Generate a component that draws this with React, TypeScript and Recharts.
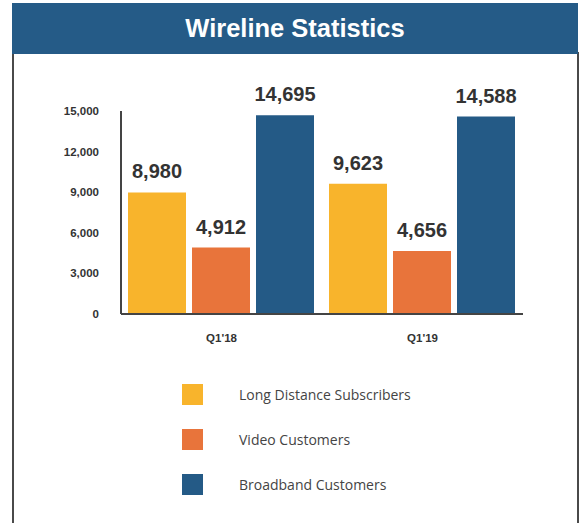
import * as React from "react";
import { BarChart, Bar, XAxis, YAxis, LabelList } from "recharts";

const quarters = ["Q1'18", "Q1'19"];
const longDistance = [8980, 9623];
const video = [4912, 4656];
const broadband = [14695, 14588];
const yTicks = [0, 3000, 6000, 9000, 12000, 15000];

const seriesNames = [
  "Long Distance Subscribers",
  "Video Customers",
  "Broadband Customers",
];
const colors = ["#F8B42C", "#E8743B", "#245A86"];

const data = quarters.map((q, i) => ({
  quarter: q,
  longDistance: longDistance[i],
  video: video[i],
  broadband: broadband[i],
}));

const keys = ["longDistance", "video", "broadband"];

const fmt = (v: number) => v.toLocaleString("en-US");

const App: React.FC = () => {
  return (
    <div
      style={{
        position: "absolute",
        left: 0,
        top: 0,
        width: 584,
        height: 523,
        background: "#fff",
        overflow: "hidden",
        fontFamily: "'Liberation Sans', Arial, sans-serif",
      }}
    >
      {/* white panel with border */}
      <div
        style={{
          position: "absolute",
          left: 12,
          top: 52,
          width: 563,
          height: 480,
          border: "2px solid #4a4a4a",
          background: "#fff",
        }}
      />
      {/* title banner */}
      <div
        style={{
          position: "absolute",
          left: 12,
          top: 3,
          width: 566,
          height: 51,
          background: "#255B87",
          color: "#fff",
          fontWeight: "bold",
          fontSize: 25.5,
          lineHeight: "51px",
          textAlign: "center",
        }}
      >
        Wireline Statistics
      </div>

      <div style={{ position: "absolute", left: 0, top: 0 }}>
        <BarChart
          width={584}
          height={523}
          data={data}
          margin={{ top: 111, right: 61, bottom: 179, left: 61 }}
          barCategoryGap={7}
          barGap={6}
        >
          <XAxis
            dataKey="quarter"
            height={30}
            axisLine={{ stroke: "#444", strokeWidth: 2 }}
            tickLine={false}
            tickSize={0}
            tickMargin={20}
            tick={{ fill: "#333", fontSize: 11.5, fontWeight: "bold" }}
          />
          <YAxis
            width={60}
            domain={[0, 15000]}
            ticks={yTicks}
            tickFormatter={fmt}
            axisLine={{ stroke: "#444", strokeWidth: 2 }}
            tickLine={false}
            tickSize={0}
            tickMargin={22}
            tick={{ fill: "#333", fontSize: 11.5, fontWeight: "bold" }}
          />
          {keys.map((k, i) => (
            <Bar
              key={k}
              dataKey={k}
              name={seriesNames[i]}
              fill={colors[i]}
              isAnimationActive={false}
            >
              <LabelList
                dataKey={k}
                position="top"
                offset={14}
                formatter={(v: any) => fmt(Number(v))}
                style={{ fill: "#333", fontSize: 20, fontWeight: "bold" }}
              />
            </Bar>
          ))}
        </BarChart>
      </div>

      {/* legend */}
      {seriesNames.map((name, i) => (
        <div
          key={name}
          style={{
            position: "absolute",
            left: 182,
            top: 384 + i * 45,
            height: 21,
            display: "flex",
            alignItems: "center",
          }}
        >
          <div style={{ width: 21, height: 21, background: colors[i] }} />
          <span
            style={{
              marginLeft: 36,
              fontFamily: "'Open Sans', sans-serif",
              fontSize: 14,
              color: "#444",
            }}
          >
            {name}
          </span>
        </div>
      ))}
    </div>
  );
};

export default App;
